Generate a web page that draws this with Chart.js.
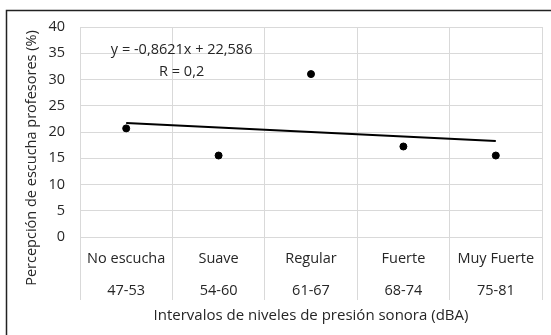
<!DOCTYPE html>
<html>
<head>
<meta charset="utf-8">
<script src="https://cdn.jsdelivr.net/npm/chart.js@4/dist/chart.umd.min.js"></script>
<style>
  html, body { margin: 0; padding: 0; background: #fff; }
  #wrap { position: relative; width: 551px; height: 335px; }
</style>
</head>
<body>
<div id="wrap"><canvas id="chart" width="551" height="335"></canvas></div>
<script>
// Data
const categories = ["No escucha", "Suave", "Regular", "Fuerte", "Muy Fuerte"];
const intervals = ["47-53", "54-60", "61-67", "68-74", "75-81"];
const percepcion = [20.69, 15.52, 31.03, 17.24, 15.52];
// trend line from y = -0,8621x + 22,586 at x = 1..5
const tendencia = [21.72, 20.86, 20.00, 19.14, 18.28];
const yTicks = [0, 5, 10, 15, 20, 25, 30, 35, 40];
const equationLines = ["y = -0,8621x + 22,586", "R = 0,2"];
const yTitle = "Percepción de escucha profesores (%)";
const xTitle = "Intervalos de niveles de presión sonora (dBA)";

const FONT = "'Open Sans', sans-serif";
const TEXT = "#262626";
const GRID = "#d9d9d9";

// outer frame (top + left visible, rest cut off), y title spanning the label rows, equation label
const extras = {
  id: "extras",
  beforeDraw(chart) {
    const ctx = chart.ctx;
    ctx.save();
    ctx.strokeStyle = "#222";
    ctx.lineWidth = 1.5;
    ctx.beginPath();
    ctx.moveTo(551, 10.5);
    ctx.lineTo(6.5, 10.5);
    ctx.lineTo(6.5, 335);
    ctx.stroke();

    ctx.fillStyle = TEXT;
    ctx.font = "14.5px " + FONT;
    ctx.textAlign = "center";
    ctx.textBaseline = "middle";
    ctx.translate(32, 158);
    ctx.rotate(-Math.PI / 2);
    ctx.fillText(yTitle, 0, 0);
    ctx.restore();
  },
  afterDatasetsDraw(chart) {
    const ctx = chart.ctx;
    const x = chart.scales.x.getPixelForValue(0.6);
    const y = chart.scales.y.getPixelForValue(35);
    ctx.save();
    ctx.fillStyle = TEXT;
    ctx.font = "14.5px " + FONT;
    ctx.textAlign = "center";
    ctx.textBaseline = "middle";
    ctx.fillText(equationLines[0], x, y - 3);
    ctx.fillText(equationLines[1], x, y + 19);
    ctx.restore();
  }
};

new Chart(document.getElementById("chart"), {
  type: "line",
  data: {
    labels: categories.map((c, i) => [c, intervals[i]]),
    datasets: [
      {
        label: "Percepción",
        data: percepcion,
        showLine: false,
        pointRadius: 3.5,
        pointBackgroundColor: "#000",
        pointBorderColor: "#000",
        order: 1
      },
      {
        label: "Lineal",
        data: tendencia,
        borderColor: "#000",
        borderWidth: 2,
        pointRadius: 0,
        fill: false,
        tension: 0,
        order: 2
      }
    ]
  },
  options: {
    responsive: false,
    animation: false,
    layout: { padding: { top: 27, right: 9, left: 0, bottom: 0 } },
    plugins: {
      legend: { display: false },
      tooltip: { enabled: false }
    },
    scales: {
      x: {
        offset: true,
        grid: { offset: true, color: GRID, lineWidth: 1, tickLength: 63, tickColor: GRID },
        border: { display: false },
        ticks: {
          color: TEXT,
          font: { family: FONT, size: 14.5, lineHeight: 2.2 },
          padding: -57,
          maxRotation: 0,
          autoSkip: false
        },
        title: {
          display: true,
          text: xTitle,
          color: TEXT,
          font: { family: FONT, size: 15 },
          padding: { top: 0, bottom: 10 }
        },
        afterFit(scale) { scale.height = 98; }
      },
      y: {
        min: 0,
        max: 40,
        afterBuildTicks(scale) { scale.ticks = yTicks.map(v => ({ value: v })); },
        grid: { color: GRID, lineWidth: 1, drawTicks: false },
        border: { color: GRID },
        ticks: {
          color: TEXT,
          font: { family: FONT, size: 14.5 },
          padding: 15
        },
        afterFit(scale) { scale.width = 80; }
      }
    }
  },
  plugins: [extras]
});
</script>
</body>
</html>
